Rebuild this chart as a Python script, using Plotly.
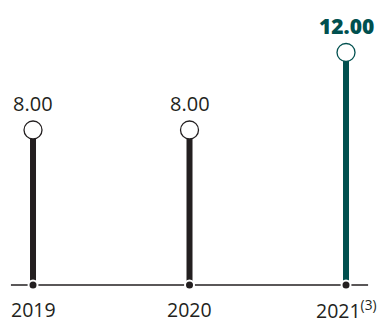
import plotly.graph_objects as go

years = ["2019", "2020", "2021"]
year_labels = ["2019", "2020", "2021<sup>(3)</sup>"]
values = [8.00, 8.00, 12.00]
value_labels = ["8.00", "8.00", "12.00"]

DARK = "#231f20"
TEAL = "#00504f"
colors = [DARK, DARK, TEAL]
FONT = "Open Sans"

xs = list(range(len(years)))
fig = go.Figure()

# baseline
fig.add_trace(go.Scatter(x=[-0.141, 2.141], y=[0, 0], mode="lines",
                         line=dict(color=DARK, width=1.3), hoverinfo="skip"))

for i, (v, c) in enumerate(zip(values, colors)):
    fig.add_trace(go.Scatter(x=[i, i], y=[0, v], mode="lines",
                             line=dict(color=c, width=6), hoverinfo="skip"))

# top circles
fig.add_trace(go.Scatter(x=xs, y=values, mode="markers",
                         marker=dict(size=18, color="white",
                                     line=dict(color=colors, width=1.3)),
                         hoverinfo="skip"))
# baseline dots
fig.add_trace(go.Scatter(x=xs, y=[0] * len(xs), mode="markers",
                         marker=dict(size=9, color=DARK,
                                     line=dict(color="white", width=2)),
                         hoverinfo="skip"))

for i, (v, lab, c) in enumerate(zip(values, value_labels, colors)):
    bold = i == 2
    fig.add_annotation(x=i, y=v, text=lab,
                       showarrow=False, yshift=27, xanchor="center", yanchor="middle",
                       font=dict(family=FONT, size=21 if bold else 20,
                                 weight=800 if bold else 400,
                                 color=c if bold else DARK))
    fig.add_annotation(x=i, y=0, text=year_labels[i], showarrow=False,
                       yshift=-24, xanchor="center", yanchor="middle",
                       font=dict(family=FONT, size=19.5, color=DARK))

fig.update_layout(
    width=377, height=320, margin=dict(l=0, r=0, t=0, b=0),
    paper_bgcolor="white", plot_bgcolor="white", showlegend=False,
    xaxis=dict(range=[-0.2109, 2.198], visible=False, fixedrange=True),
    yaxis=dict(range=[-1.806, 14.71], visible=False, fixedrange=True),
)
fig.write_html("out.html")
